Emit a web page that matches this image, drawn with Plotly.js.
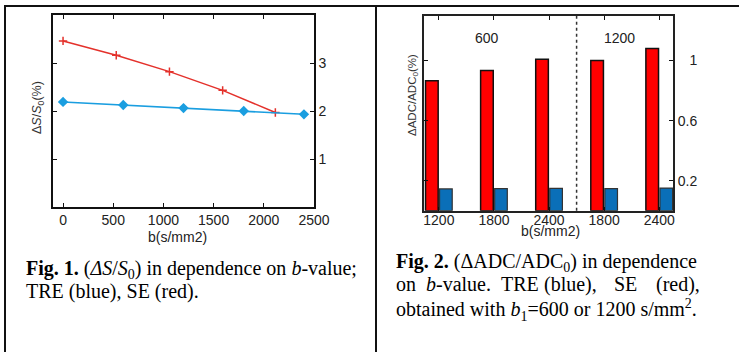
<!DOCTYPE html>
<html>
<head>
<meta charset="utf-8">
<script src="https://cdn.plot.ly/plotly-3.0.1.min.js"></script>
<style>html,body{margin:0;padding:0;background:#fff;}#chart{width:739px;height:352px;}</style>
</head>
<body>
<div id="chart"></div>
<script>
// Fig. 1 data
const seX = [0, 530, 1060, 1590, 2115];
const seY = [3.46, 3.16, 2.82, 2.43, 1.97];
const treX = [0, 600, 1200, 1800, 2400];
const treY = [2.19, 2.125, 2.06, 2.0, 1.93];
const fig1XTicks = [0, 500, 1000, 1500, 2000, 2500];
const fig1YTicks = [1, 2, 3];

// Fig. 2 data
const barPos = [0, 1, 2, 3, 4];
const barLabels = ['1200', '1800', '2400', '1800', '2400'];
const seAdc = [0.865, 0.933, 1.009, 1.0, 1.08];
const treAdc = [0.145, 0.147, 0.149, 0.147, 0.151];
const fig2YTicks = [0.2, 0.6, 1];
const fig2YLabels = ['0.2', '0.6', '\u00a0\u00a0\u00a01'];
const groupLabels = ['600', '1200'];
const groupLabelPos = [0.87, 3.28];
const groupSplit = 2.5;

const W = 739, H = 352;
const px = x => x / W;
const py = y => 1 - y / H;

const sans = 'Liberation Sans, Arial, sans-serif';
const serif = 'Liberation Serif, Times New Roman, serif';
const capFont = {family: serif, size: 20, color: '#000'};

const traces = [
  {x: seX, y: seY, type: 'scatter', mode: 'lines+markers', xaxis: 'x', yaxis: 'y',
   line: {color: '#e4312b', width: 1.5},
   marker: {symbol: 'cross-thin', size: 6, line: {color: '#e4312b', width: 1.5}}},
  {x: treX, y: treY, type: 'scatter', mode: 'lines+markers', xaxis: 'x', yaxis: 'y',
   line: {color: '#1a9ee0', width: 1.5},
   marker: {symbol: 'diamond', size: 8, color: '#1a9ee0'}},
  {x: barPos, y: seAdc, type: 'bar', xaxis: 'x2', yaxis: 'y2',
   marker: {color: '#ff0000', line: {color: '#111', width: 1.5}}},
  {x: barPos, y: treAdc, type: 'bar', xaxis: 'x2', yaxis: 'y2',
   marker: {color: '#0a6fb8', line: {color: '#333', width: 1.2}}}
];

const axCommon = {showgrid: false, zeroline: false, showline: true, linecolor: '#111', linewidth: 1.6,
  ticks: 'inside', ticklen: 4, tickcolor: '#111', mirror: 'ticks',
  tickfont: {family: sans, size: 14, color: '#222'}};

function cap(text, x, top) {
  return {text: text, xref: 'paper', yref: 'paper', x: px(x), y: py(top), xanchor: 'left', yanchor: 'top',
    align: 'left', showarrow: false, font: capFont};
}

const annotations = [
  // axis titles
  {text: 'Δ<i>S</i>/<i>S</i><sub>0</sub>(%)', xref: 'paper', yref: 'paper', x: px(38), y: py(108),
   xanchor: 'center', yanchor: 'middle',
   textangle: -90, showarrow: false, font: {family: sans, size: 12.5, color: '#333'}},
  {text: 'b(s/mm2)', xref: 'paper', yref: 'paper', x: px(177), y: py(237),
   xanchor: 'center', yanchor: 'middle', showarrow: false, font: {family: sans, size: 14, color: '#222'}},
  {text: 'ΔADC/ADC<sub>0</sub>(%)', xref: 'paper', yref: 'paper', x: px(413), y: py(95),
   xanchor: 'center', yanchor: 'middle',
   textangle: -90, showarrow: false, font: {family: sans, size: 11.5, color: '#333'}},
  {text: 'b(s/mm2)', xref: 'paper', yref: 'paper', x: px(550), y: py(231),
   xanchor: 'center', yanchor: 'middle', showarrow: false, font: {family: sans, size: 14, color: '#222'}},
  // captions
  cap('<b>Fig. 1.</b> (<i>ΔS</i>/<i>S</i><sub>0</sub>) in dependence on <i>b</i>-value;', 24, 255),
  cap('TRE (blue), SE (red).', 24, 278),
  cap('<b>Fig. 2.</b> (ΔADC/ADC<sub>0</sub>) in dependence', 394, 248),
  cap('obtained with <i>b</i><sub>1</sub>=600 or 1200 s/mm<sup>2</sup>.', 394, 294)
];
// justified second line of Fig. 2 caption
const line2Words = ['on', '<i>b</i>-value.', 'TRE', '(blue),', 'SE', '(red),'];
const line2X = [394, 424, 499, 542, 612, 654];
line2Words.forEach((w, i) => annotations.push(cap(w, line2X[i], 271)));
// group labels in Fig. 2
groupLabels.forEach((t, i) => annotations.push({text: t, xref: 'x2', yref: 'y2', x: groupLabelPos[i], y: 1.15,
  xanchor: 'center', yanchor: 'middle', showarrow: false, font: {family: sans, size: 14, color: '#222'}}));

const layout = {
  width: W, height: H, margin: {l: 0, r: 0, t: 0, b: 0},
  paper_bgcolor: '#fff', plot_bgcolor: '#fff', showlegend: false,
  barmode: 'group', bargap: 0.49, bargroupgap: 0.1,
  xaxis: Object.assign({}, axCommon, {domain: [px(53), px(314)], anchor: 'y', range: [-100, 2500],
    tickvals: fig1XTicks}),
  yaxis: Object.assign({}, axCommon, {domain: [py(207), py(15)], anchor: 'x', range: [0, 4],
    tickvals: fig1YTicks, side: 'right'}),
  xaxis2: Object.assign({}, axCommon, {domain: [px(424), px(673)], anchor: 'y2', range: [-0.27, 4.25],
    tickvals: barPos, ticktext: barLabels, linecolor: '#222', linewidth: 2, ticklabelstandoff: -5}),
  yaxis2: Object.assign({}, axCommon, {domain: [py(210.7), py(15.5)], anchor: 'x2', range: [0, 1.3],
    tickvals: fig2YTicks, ticktext: fig2YLabels, side: 'right', linecolor: '#222', linewidth: 2}),
  shapes: [
    {type: 'line', xref: 'paper', yref: 'paper', x0: px(4), x1: 1.01, y0: py(6), y1: py(6), line: {color: '#111', width: 2}},
    {type: 'line', xref: 'paper', yref: 'paper', x0: px(5), x1: px(5), y0: py(6), y1: -0.01, line: {color: '#111', width: 2}},
    {type: 'line', xref: 'paper', yref: 'paper', x0: px(376), x1: px(376), y0: py(6), y1: -0.01, line: {color: '#111', width: 2}},
    {type: 'line', xref: 'x2', yref: 'y2 domain', x0: groupSplit, x1: groupSplit, y0: 0, y1: 1,
     line: {color: '#333', width: 1.5, dash: 'dot'}}
  ],
  annotations: annotations
};

Plotly.newPlot('chart', traces, layout, {staticPlot: true, displayModeBar: false});
</script>
</body>
</html>
